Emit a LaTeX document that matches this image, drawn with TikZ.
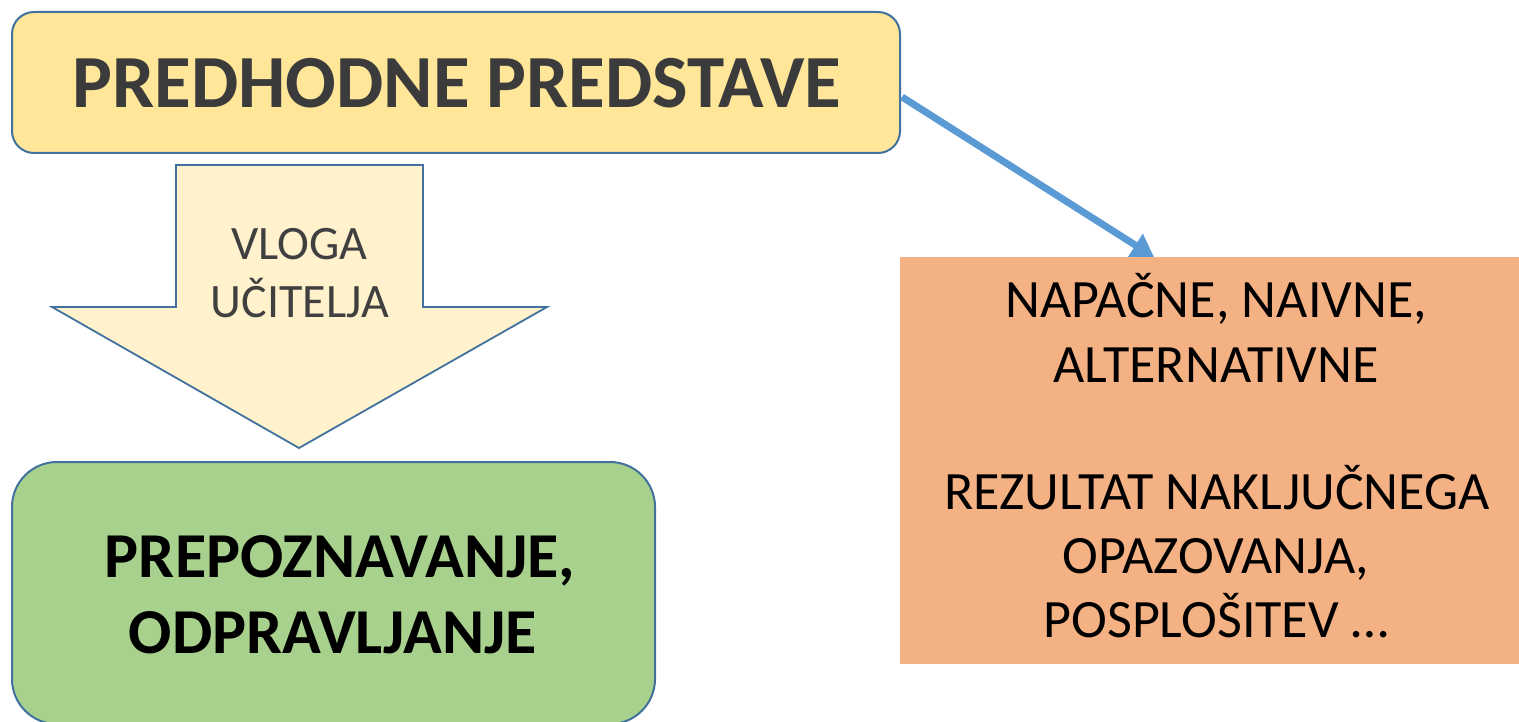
\documentclass[tikz,border=0pt]{standalone}
\usepackage{fontspec}
\setmainfont{Carlito}
\usetikzlibrary{arrows.meta}
\definecolor{edgeblue}{HTML}{41719C}
\definecolor{arrowblue}{HTML}{5B9BD5}
\definecolor{topfill}{HTML}{FFE699}
\definecolor{downfill}{HTML}{FFF2CC}
\definecolor{greenfill}{HTML}{A9D18E}
\definecolor{orangefill}{HTML}{F4B183}
\definecolor{darktext}{HTML}{3B3B3B}
\definecolor{graytext}{HTML}{404040}
\tikzset{
  boxline/.style={draw=edgeblue, line width=2pt},
  lbl/.style={anchor=base, inner sep=0pt, outer sep=0pt},
  toptxt/.style={lbl, font=\fontsize{75}{82}\selectfont\bfseries, text=darktext},
  arrtxt/.style={lbl, font=\fontsize{48}{54}\selectfont, text=graytext},
  greentxt/.style={lbl, font=\fontsize{64}{70}\selectfont\bfseries, text=black},
  orangetxt/.style={lbl, font=\fontsize{54}{60}\selectfont, text=black},
  link/.style={draw=arrowblue, line width=7pt, -{Triangle[length=22pt,width=26pt]}}
}
\begin{document}
\begin{tikzpicture}[x=1pt,y=-1pt]
\useasboundingbox (0,0) rectangle (1519,722);
\clip (0,0) rectangle (1519,722);
% top box
\node[boxline, fill=topfill, rounded corners=22pt, minimum width=888pt, minimum height=141pt, inner sep=0pt] (top) at (456,82.5) {};
\node[toptxt] (toplbl) at (457,108) {PREDHODNE PREDSTAVE};
% block arrow
\draw[draw=edgeblue, line width=1.8pt, fill=downfill, line join=miter]
  (176,165) -- (423,165) -- (423,307) -- (547,307) -- (299,448) -- (52,307) -- (176,307) -- cycle;
\node[arrtxt] (vloga) at (299.5,260) {VLOGA};
\node[arrtxt] (ucitelja) at (300,317) {UČITELJA};
% green box
\draw[boxline, fill=greenfill, rounded corners=45pt] (12,462) rectangle (655,724);
\node[greentxt] (prep) at (340,577) {PREPOZNAVANJE,};
\node[greentxt] (odpr) at (333,653) {ODPRAVLJANJE};
% orange box
\node[fill=orangefill, minimum width=619pt, minimum height=407pt, inner sep=0pt, anchor=north west] (orng) at (900,257) {};
\node[orangetxt] (o1) at (1216,317) {NAPAČNE, NAIVNE,};
\node[orangetxt] (o2) at (1216,382) {ALTERNATIVNE};
\node[orangetxt] (o3) at (1217,509) {REZULTAT NAKLJUČNEGA};
\node[orangetxt] (o4) at (1216,573) {OPAZOVANJA,};
\node[orangetxt] (o5) at (1216,637) {POSPLOŠITEV …};
% connector
\coordinate (from) at (902,97);
\coordinate (to) at (1154,257);
\draw[link] (from) -- (to);
\end{tikzpicture}
\end{document}
